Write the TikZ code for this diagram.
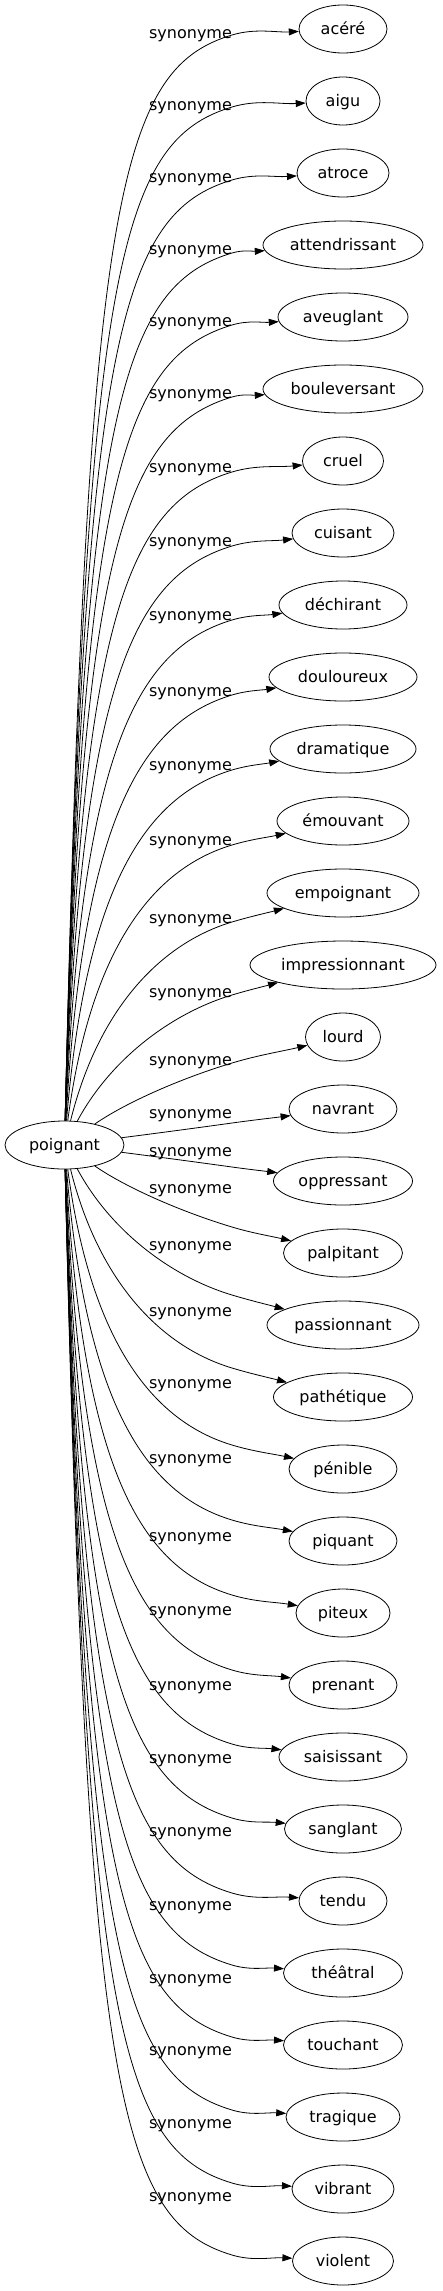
\documentclass[tikz,border=0pt]{standalone}
\usepackage{fontspec}
\setmainfont{DejaVu Sans}
\usetikzlibrary{arrows.meta,shapes.geometric}

\begin{document}
\begin{tikzpicture}[x=1pt,y=1pt,
  word/.style={draw=black,ellipse,line width=0.8pt,inner sep=0pt,minimum height=48pt,
    text height=15pt,text depth=4pt,font=\fontsize{16}{19}\selectfont},
  lab/.style={inner sep=0pt,text height=15pt,text depth=4pt,font=\fontsize{16}{19}\selectfont},
  syn/.style={draw=black,line width=0.8pt,-{Triangle[length=10pt,width=7pt]}}]
\fill[white] (0,0) rectangle (442,-2291);
\node[word,minimum width=119pt] (poignant) at (64.5,-1145) {poignant};
% one entry per synonym: name/text/width/label y/bend offset/side
\foreach \n/\txt/\wid/\ly/\rr/\sg [count=\i from 0] in {
  acere/acéré/88/33/1110/1, aigu/aigu/74/105/1038/1,
  atroce/atroce/92/177/965/1, attendrissant/attendrissant/160/249/892/1,
  aveuglant/aveuglant/130/321/820/1, bouleversant/bouleversant/160/393/748/1,
  cruel/cruel/81/467/673/1, cuisant/cuisant/102/541/599/1,
  dechirant/déchirant/128/615/525/1, douloureux/douloureux/148/691/450/1,
  dramatique/dramatique/146/765/375/1, emouvant/émouvant/132/840/300/1,
  empoignant/empoignant/152/918/223/1, impressionnant/impressionnant/186/992/150/1,
  lourd/lourd/75/1060/82/1, navrant/navrant/108/1113/22/1,
  oppressant/oppressant/139/1151/22/-1, palpitant/palpitant/119/1188/82/-1,
  passionnant/passionnant/152/1245/150/-1, pathetique/pathétique/139/1311/223/-1,
  penible/pénible/108/1383/300/-1, piquant/piquant/108/1458/375/-1,
  piteux/piteux/94/1536/450/-1, prenant/prenant/108/1610/525/-1,
  saisissant/saisissant/128/1685/599/-1, sanglant/sanglant/117/1758/673/-1,
  tendu/tendu/88/1831/748/-1, theatral/théâtral/119/1905/820/-1,
  touchant/touchant/119/1978/892/-1, tragique/tragique/114/2050/965/-1,
  vibrant/vibrant/102/2123/1038/-1, violent/violent/101/2196/1110/-1}
{
  \pgfmathsetmacro\ny{-29-72*\i}
  \node[word,minimum width=\wid pt] (\n) at (343,\ny) {\txt};
  \node[lab] (l\n) at (190.5,-\ly) {synonyme};
  % first part, up to the label
  \pgfmathsetmacro\ax{64.5+90*exp(-\rr/200)+0.02*\rr}
  \pgfmathsetmacro\ay{-1145+(\sg)*\rr*(0.9-0.45*exp(-\rr/500))}
  \pgfmathsetmacro\gl{35+85*(1-exp(-\rr/400))}
  \pgfmathsetmacro\dd{min(0.3*\gl,0.25*\rr)}
  \pgfmathsetmacro\bx{232-\gl}
  \pgfmathsetmacro\by{-1145+(\sg)*(\rr-\dd)}
  \pgfmathsetmacro\wy{-1145+(\sg)*\rr}
  % second part, aimed at the centre of the word
  \pgfmathsetmacro\dn{abs(1116-72*\i)}
  \pgfmathsetmacro\du{\dn-\rr}
  \pgfmathsetmacro\tt{1/sqrt((222/\wid)^2+(\du/24)^2)}
  \pgfmathsetmacro\ex{343-111*\tt}
  \pgfmathsetmacro\eu{\dn-\du*\tt}
  \pgfmathsetmacro\cx{232+0.35*(\ex-232)}
  \pgfmathsetmacro\cy{\wy+(\sg)*0.35*(\ex-232)*\dd/\gl}
  \pgfmathsetmacro\fx{232+0.65*(\ex-232)}
  \pgfmathsetmacro\fy{-1145+(\sg)*(\rr+0.65*(\eu-\rr))}
  \coordinate (w\n) at (232,\wy);
  \draw[syn] (poignant) .. controls (\ax,\ay) and (\bx,\by) .. (w\n)
    .. controls (\cx,\cy) and (\fx,\fy) .. (\n);
}
\end{tikzpicture}
\end{document}
